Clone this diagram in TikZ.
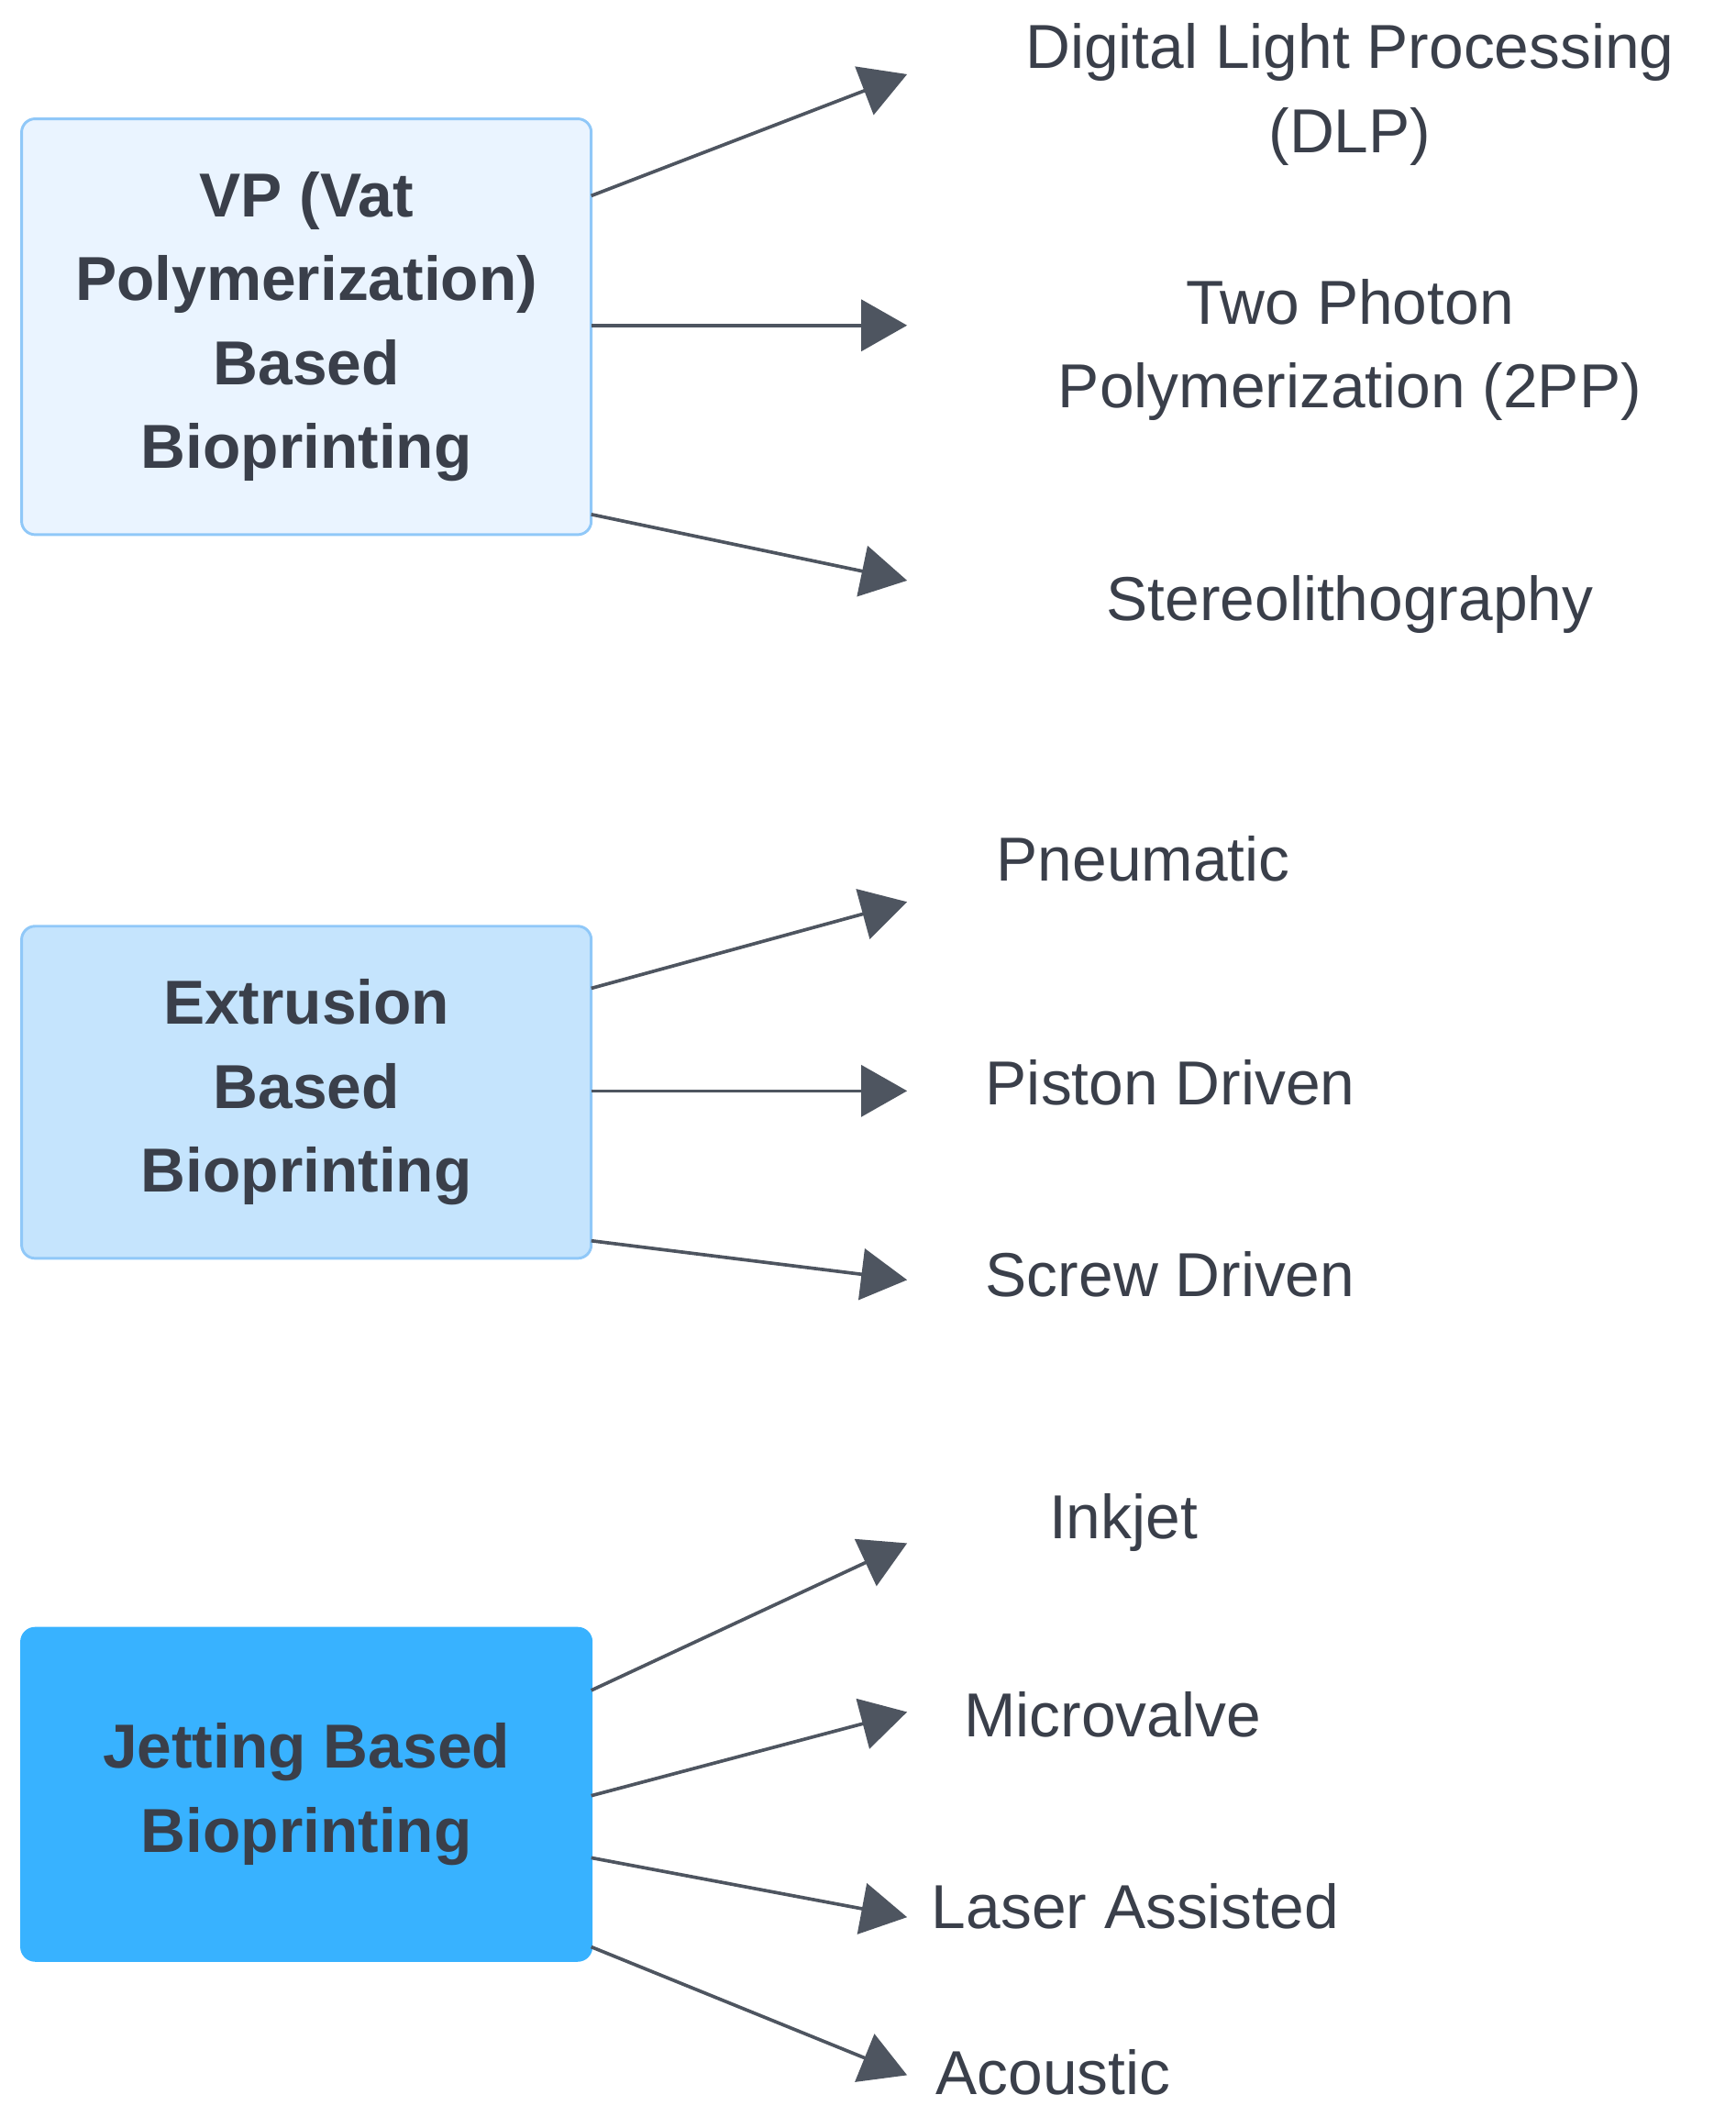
\documentclass[tikz,border=0pt]{standalone}
\usepackage{fontspec}
\setmainfont{Liberation Sans}
\usetikzlibrary{arrows.meta}
\definecolor{txt}{HTML}{3A3F4A}
\definecolor{ln}{HTML}{4E5560}
\definecolor{bd}{HTML}{90C8F8}
\definecolor{fa}{HTML}{EAF4FF}
\definecolor{fb}{HTML}{C5E4FD}
\definecolor{fc}{HTML}{38B2FF}
\begin{document}
\begin{tikzpicture}[x=1pt,y=-1pt,
  cat/.style={draw=bd,line width=2pt,rounded corners=10pt,minimum width=422pt,align=center,font=\fontsize{46}{62}\selectfont\bfseries,text=txt,inner sep=0pt},
  lbl/.style={font=\fontsize{46}{62}\selectfont,text=txt,inner sep=0pt},
  arr/.style={draw=ln,line width=2.5pt,-{Triangle[length=34pt,width=38pt]}}]
\useasboundingbox (0,0) rectangle (1286,1568);
\node[cat,fill=fa,minimum height=308pt] (vp) at (227,242) {VP (Vat\\Polymerization)\\Based\\Bioprinting};
\node[cat,fill=fb,minimum height=246pt] (ex) at (227,809) {Extrusion\\Based\\Bioprinting};
\node[cat,fill=fc,draw=fc,minimum height=246pt] (je) at (227,1329) {Jetting Based\\Bioprinting};
\node[lbl,align=center] (d1) at (1000,70) {Digital Light Processing\\(DLP)};
\node[lbl,align=center] (d2) at (1000,259) {Two Photon\\Polymerization (2PP)};
\node[lbl] (d3) at (1000,448) {Stereolithography};
\node[lbl,anchor=west] (e1) at (738,636) {Pneumatic};
\node[lbl,anchor=west] (e2) at (730,802) {Piston Driven};
\node[lbl,anchor=west] (e3) at (730,944) {Screw Driven};
\node[lbl,anchor=west] (j1) at (777,1128) {Inkjet};
\node[lbl,anchor=west] (j2) at (714,1270) {Microvalve};
\node[lbl,anchor=west] (j3) at (690,1412) {Laser Assisted};
\node[lbl,anchor=west] (j4) at (693,1535) {Acoustic};
\foreach \n/\y in {a1/145,a2/241,a3/381,b1/732,b2/808,b3/919,c1/1252,c2/1330,c3/1376,c4/1442}
  \coordinate (s\n) at (438,\y);
\foreach \n/\y in {a1/55,a2/241,a3/430,b1/668,b2/808,b3/948,c1/1143,c2/1268,c3/1420,c4/1537}
  \coordinate (t\n) at (672,\y);
\foreach \n in {a1,a2,a3,b1,b2,b3,c1,c2,c3,c4}
  \draw[arr] (s\n) -- (t\n);
\end{tikzpicture}
\end{document}
